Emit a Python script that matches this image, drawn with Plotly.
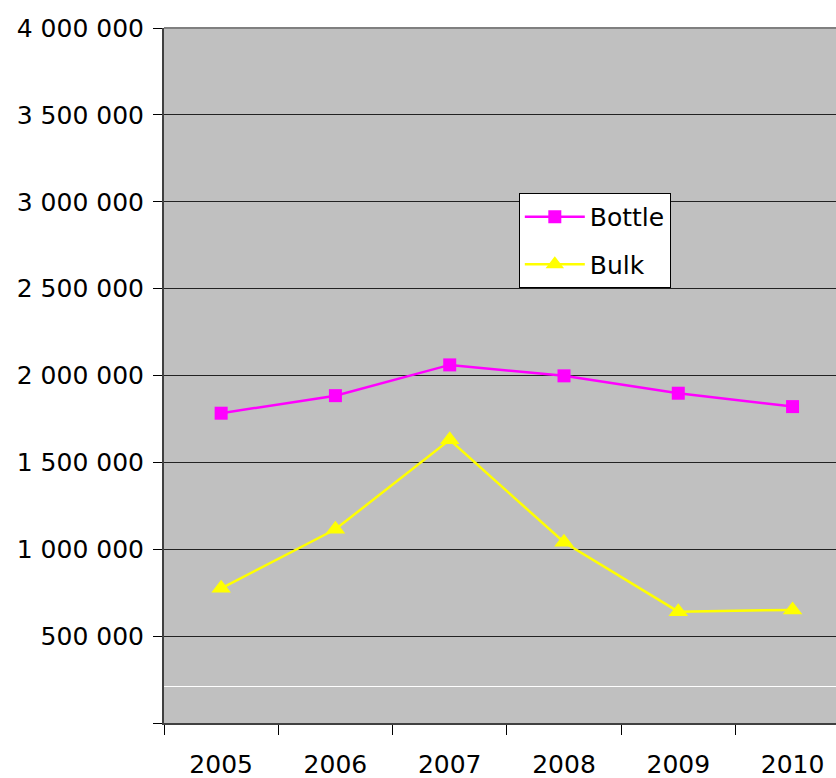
import plotly.graph_objects as go

# Data
years = ["2005", "2006", "2007", "2008", "2009", "2010"]
bottle = [1783000, 1884000, 2061000, 1998000, 1898000, 1821000]
bulk = [775000, 1115000, 1630000, 1040000, 641000, 651000]

y_ticks = [0, 500000, 1000000, 1500000, 2000000, 2500000, 3000000, 3500000, 4000000]
y_labels = ["", "500 000", "1 000 000", "1 500 000", "2 000 000",
            "2 500 000", "3 000 000", "3 500 000", "4 000 000"]
white_line_value = 210000

font_family = "DejaVu Sans, Arial, sans-serif"

fig = go.Figure()

fig.add_trace(go.Scatter(
    x=years, y=bottle, name="Bottle", mode="lines+markers", legendgroup="a",
    line=dict(color="#FF00FF", width=2.5),
    marker=dict(symbol="square", size=13, color="#FF00FF"),
))
fig.add_trace(go.Scatter(
    x=years, y=bulk, name="Bulk", mode="lines+markers", legendgroup="b",
    line=dict(color="#FFFF00", width=2.5),
    marker=dict(symbol="triangle-up", size=17, color="#FFFF00"),
))

## odd white line near the bottom of the plot area
fig.add_shape(type="line", xref="paper", yref="y", x0=0, x1=1,
              y0=white_line_value, y1=white_line_value,
              line=dict(color="white", width=1), layer="below")
## grey top border
fig.add_shape(type="line", xref="paper", yref="paper", x0=0, x1=1, y0=1, y1=1,
              line=dict(color="#808080", width=2))

fig.update_layout(
    width=836, height=778,
    margin=dict(l=164, r=0, t=28, b=55),
    paper_bgcolor="white",
    plot_bgcolor="#C0C0C0",
    font=dict(family=font_family, size=25, color="black"),
    showlegend=True,
    legend=dict(
        x=0.528, y=0.7626, xanchor="left", yanchor="top",
        bgcolor="white", bordercolor="black", borderwidth=1,
        font=dict(size=25), itemwidth=60, tracegroupgap=12,
    ),
    xaxis=dict(
        type="category", range=[-0.5, 5.38],
        tickson="boundaries", ticks="outside", ticklen=10, tickcolor="black",
        showgrid=False, showline=True, linecolor="#404040", linewidth=2,
        zeroline=False, ticklabelstandoff=18,
    ),
    yaxis=dict(
        range=[0, 4000000], tickvals=y_ticks, ticktext=y_labels,
        ticks="outside", ticklen=9, tickcolor="black",
        showgrid=True, gridcolor="#222222", gridwidth=1,
        showline=True, linecolor="#404040", linewidth=2,
        zeroline=False, ticklabelstandoff=4,
    ),
)

# drop the default page margin so the figure fills the window exactly
fig.write_html("out.html",
               config={"displayModeBar": False},
               post_script="document.body.style.margin='0';"
                           "document.body.style.overflow='hidden';")
